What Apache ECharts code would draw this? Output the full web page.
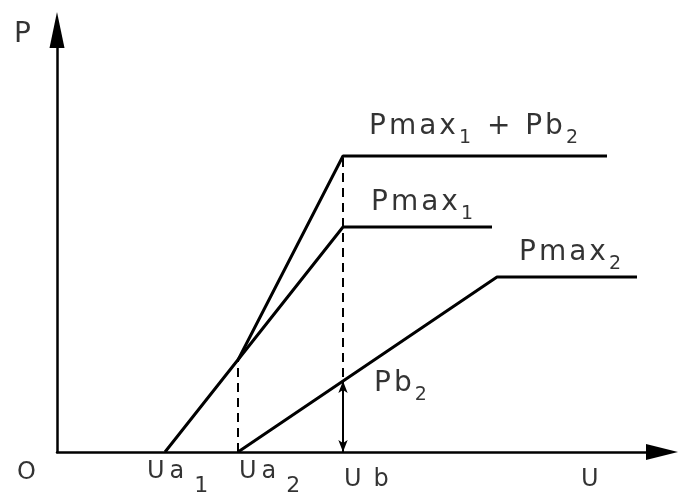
<!DOCTYPE html>
<html><head><meta charset="utf-8">
<script src="https://cdn.jsdelivr.net/npm/echarts@6/dist/echarts.min.js"></script>
<style>html,body{margin:0;padding:0;background:#fff}#c{width:678px;height:503px}</style>
</head><body><div id="c"></div>
<script>
// Voltages on the U axis
const ua1 = 10.8, ua2 = 18.1, ub = 28.6;
const uKnee2 = 44.0;
const uEnd1 = 43.5, uEndSum = 55.0, uEnd2 = 58.0;
// Powers on the P axis
const pmax1 = 22.5, pmax2 = 17.5, pb2 = 7.1, pSum = 29.6;
const pAtUa2 = 9.2;
// Axis extents
const xMax = 60.5, yMax = 42.2;

// Curves
const line1 = [[ua1, 0], [ub, pmax1], [uEnd1, pmax1]];
const line2 = [[ua2, 0], [uKnee2, pmax2], [uEnd2, pmax2]];
const lineSum = [[ua2, pAtUa2], [ub, pSum], [uEndSum, pSum]];
const dashA = [[ua2, 0], [ua2, pAtUa2]];
const dashB = [[ub, 0], [ub, pSum]];

const INK = '#000';
const FONT = 'DejaVu Sans';
const rich = {
  n: {fontFamily: FONT, fontSize: 28, color: INK, lineHeight: 30, verticalAlign: 'top', padding: [0, 3, 0, 0]},
  s: {fontFamily: FONT, fontSize: 19, color: INK, padding: [16, 4, 0, 0], verticalAlign: 'top'},
  m: {fontFamily: FONT, fontSize: 24, color: INK, lineHeight: 26, verticalAlign: 'top', padding: [0, 5, 0, 0]},
  mw: {fontFamily: FONT, fontSize: 24, color: INK, lineHeight: 26, verticalAlign: 'top', padding: [0, 12, 0, 0]},
  ms: {fontFamily: FONT, fontSize: 22, color: INK, padding: [15, 0, 0, 5], verticalAlign: 'top'}
};

// hand-lettered look: each character as its own rich token, with spacing
function sp(style, text) {
  return text.split('').map(function (ch) { return '{' + style + '|' + ch + '}'; }).join('');
}

function lab(pt, text, offset) {
  return {
    value: pt,
    label: {show: true, formatter: text, position: [0, 0], align: 'left', verticalAlign: 'top',
      offset: offset, color: INK, rich: rich}
  };
}

const labels = [
  lab([0, yMax], sp('n', 'P'), [-43, -9]),
  lab([0, 0], sp('m', 'O'), [-40, 9]),
  lab([ua1, 0], sp('m', 'Ua') + '{ms|1}', [-18, 8]),
  lab([ua2, 0], sp('m', 'Ua') + '{ms|2}', [1, 8]),
  lab([ub, 0], sp('mw', 'U') + sp('m', 'b'), [1, 16]),
  lab([xMax, 0], sp('m', 'U'), [-81, 16]),
  lab([ub, pSum], sp('n', 'Pmax') + '{s|1}' + sp('n', ' + Pb') + '{s|2}', [26, -43]),
  lab([ub, pmax1], sp('n', 'Pmax') + '{s|1}', [28, -38]),
  lab([uKnee2, pmax2], sp('n', 'Pmax') + '{s|2}', [22, -38]),
  lab([ub, pb2], sp('n', 'Pb') + '{s|2}', [31, -11])
];

const solid = {color: INK, width: 3};
const dashed = {color: INK, width: 2, type: [9, 6]};

const chart = echarts.init(document.getElementById('c'), null, {renderer: 'canvas'});
chart.setOption({
  backgroundColor: '#fff',
  animation: false,
  grid: {left: 57, right: 16, top: 30, bottom: 51},
  xAxis: {
    type: 'value', min: 0, max: xMax,
    splitLine: {show: false}, axisTick: {show: false}, axisLabel: {show: false},
    axisLine: {show: true, onZero: false, symbol: ['none', 'triangle'], symbolSize: [16, 32],
      lineStyle: {color: INK, width: 2.5}}
  },
  yAxis: {
    type: 'value', min: 0, max: yMax,
    splitLine: {show: false}, axisTick: {show: false}, axisLabel: {show: false},
    axisLine: {show: true, onZero: false, symbol: ['none', 'triangle'], symbolSize: [15, 36],
      lineStyle: {color: INK, width: 2.5}}
  },
  series: [
    {type: 'line', data: line1, symbol: 'none', lineStyle: solid},
    {type: 'line', data: line2, symbol: 'none', lineStyle: solid},
    {type: 'line', data: lineSum, symbol: 'none', lineStyle: solid},
    {type: 'line', data: dashA, symbol: 'none', lineStyle: dashed},
    {type: 'line', data: dashB, symbol: 'none', lineStyle: dashed,
      markLine: {
        silent: true, symbol: ['arrow', 'arrow'], symbolSize: [7, 12],
        lineStyle: {color: INK, width: 2, type: 'solid'}, label: {show: false},
        data: [[{coord: [ub, 0]}, {coord: [ub, pb2]}]]
      }},
    {type: 'scatter', data: labels, symbolSize: 0, silent: true, z: 10}
  ]
});
</script>
</body></html>
